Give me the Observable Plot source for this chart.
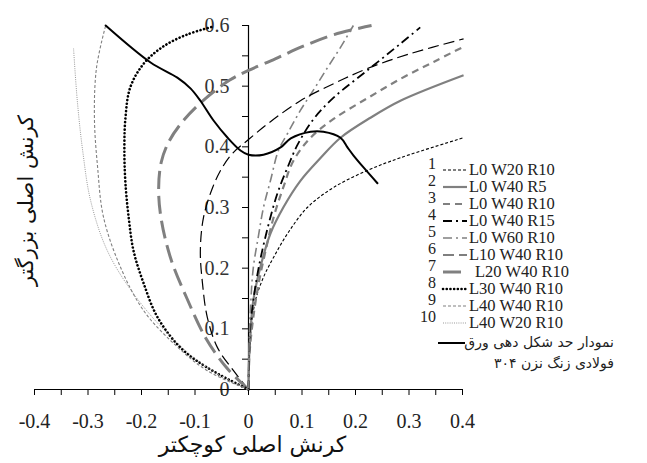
<!DOCTYPE html>
<html><head><meta charset="utf-8">
<script src="https://cdn.jsdelivr.net/npm/d3@7"></script>
<script src="https://cdn.jsdelivr.net/npm/@observablehq/plot@0.6"></script>
<style>
body{margin:0;background:#fff;}
#wrap{position:relative;width:647px;height:463px;}
#legend{position:absolute;left:0;top:0;pointer-events:none;}
</style></head><body><div id="wrap"></div>
<script>
// ---- tick values ----
const xTicks = d3.range(-8, 9).map(i => +(i * 0.05).toFixed(2));
const xLabels = [-0.4, -0.3, -0.2, -0.1, 0, 0.1, 0.2, 0.3, 0.4];
const yTicks = d3.range(0, 13).map(i => +(i * 0.05).toFixed(2));
const yLabels = [0, 0.1, 0.2, 0.3, 0.4, 0.5, 0.6];

// ---- titles ----
const xTitle = "کرنش اصلی کوچکتر";
const yTitle = "کرنش اصلی بزرگتر";
const flcLine1 = "نمودار حد شکل دهی ورق";
const flcLine2 = "فولادی زنگ نزن ۳۰۴";

// ---- series names ----
const names = ["L0 W20 R10","L0 W40 R5","L0 W40 R10","L0 W40 R15","L0 W60 R10",
               "L10 W40 R10","L20 W40 R10","L30 W40 R10","L40 W40 R10","L40 W20 R10"];

// ---- series values [minor strain, major strain] ----
const s1 = [[0,0],[0.001,0.05],[0.004,0.092],[0.013,0.147],[0.028,0.185],[0.047,0.218],[0.073,0.257],[0.110,0.300],[0.159,0.333],[0.222,0.361],[0.284,0.382],[0.402,0.415]];
const s2 = [[0,0],[0.001,0.05],[0.004,0.1],[0.009,0.147],[0.022,0.201],[0.041,0.257],[0.065,0.300],[0.097,0.344],[0.135,0.382],[0.172,0.415],[0.228,0.448],[0.284,0.476],[0.402,0.518]];
const s3 = [[0,0],[0.002,0.06],[0.009,0.119],[0.019,0.175],[0.032,0.229],[0.047,0.284],[0.065,0.333],[0.084,0.377],[0.116,0.415],[0.159,0.446],[0.222,0.480],[0.284,0.512],[0.346,0.540],[0.402,0.565]];
const s4 = [[0,0],[0.001,0.05],[0.003,0.1],[0.009,0.147],[0.019,0.201],[0.036,0.267],[0.054,0.323],[0.073,0.366],[0.092,0.404],[0.121,0.445],[0.159,0.481],[0.222,0.526],[0.284,0.570],[0.321,0.597]];
const s5 = [[0,0],[0.001,0.07],[0.004,0.14],[0.009,0.201],[0.018,0.25],[0.028,0.300],[0.041,0.344],[0.056,0.394],[0.073,0.422],[0.097,0.460],[0.121,0.493],[0.148,0.531],[0.172,0.564],[0.196,0.600]];
const s6 = [[0,0],[-0.028,0.031],[-0.058,0.069],[-0.077,0.119],[-0.086,0.175],[-0.090,0.229],[-0.084,0.284],[-0.067,0.333],[-0.049,0.366],[-0.028,0.391],[0,0.412],[0.036,0.438],[0.097,0.476],[0.159,0.504],[0.222,0.529],[0.300,0.553],[0.402,0.578]];
const s7 = [[0,0],[-0.04,0.035],[-0.08,0.085],[-0.115,0.15],[-0.145,0.215],[-0.163,0.28],[-0.168,0.33],[-0.163,0.375],[-0.148,0.41],[-0.12,0.445],[-0.08,0.48],[-0.035,0.51],[0,0.526],[0.05,0.545],[0.1,0.565],[0.16,0.585],[0.23,0.6]];
const s8 = [[0,0],[-0.077,0.036],[-0.127,0.069],[-0.170,0.119],[-0.196,0.175],[-0.215,0.229],[-0.224,0.284],[-0.230,0.340],[-0.232,0.394],[-0.230,0.448],[-0.221,0.498],[-0.196,0.537],[-0.160,0.565],[-0.115,0.585],[-0.067,0.598]];
const s9 = [[0,0],[-0.077,0.031],[-0.140,0.076],[-0.196,0.130],[-0.239,0.201],[-0.271,0.284],[-0.282,0.366],[-0.288,0.448],[-0.284,0.531],[-0.267,0.600]];
const s10 = [[0,0],[-0.077,0.036],[-0.151,0.092],[-0.215,0.158],[-0.264,0.229],[-0.295,0.311],[-0.310,0.394],[-0.320,0.476],[-0.327,0.562]];
const flc = [[-0.267,0.600],[-0.183,0.539],[-0.133,0.514],[-0.108,0.496],[-0.090,0.476],[-0.065,0.443],[-0.039,0.415],[-0.015,0.394],[0,0.387],[0.028,0.387],[0.060,0.399],[0.079,0.414],[0.116,0.425],[0.140,0.425],[0.172,0.415],[0.185,0.399],[0.196,0.386],[0.215,0.366],[0.241,0.340]];

const series = [s1,s2,s3,s4,s5,s6,s7,s8,s9,s10];

// ---- styles ----
const GRAY = "#808080";
const styles = [
  {stroke:"#000", w:1.1, dash:"3,2"},
  {stroke:GRAY, w:2.2, dash:null},
  {stroke:GRAY, w:2.2, dash:"7,5"},
  {stroke:"#000", w:1.8, dash:"9,4,2,4"},
  {stroke:GRAY, w:1.6, dash:"9,4,2,4"},
  {stroke:"#000", w:1.2, dash:"11,5"},
  {stroke:GRAY, w:3, dash:"18,7"},
  {stroke:"#000", w:2.6, dash:"0.1,3.6", cap:"round"},
  {stroke:GRAY, w:1.1, dash:"3,2"},
  {stroke:"#999", w:1, dash:"1,1.2"}
];

const serif = "'Liberation Serif','Times New Roman',serif";
const fmt = d => d === 0 ? "0" : d.toFixed(1);

const lineMarks = series.map((pts, i) => Plot.line(pts, {
  x: d => d[0], y: d => d[1], curve: "catmull-rom",
  stroke: styles[i].stroke, strokeWidth: styles[i].w,
  strokeDasharray: styles[i].dash, strokeLinecap: styles[i].cap || "butt"
}));

const chart = Plot.plot({
  width: 647, height: 463,
  marginLeft: 34, marginRight: 185, marginTop: 25, marginBottom: 74,
  x: {domain: [-0.4, 0.4], label: null},
  y: {domain: [0, 0.6], label: null},
  style: {fontFamily: serif, background: "#fff", color: "#000"},
  marks: [
    Plot.axisX(xTicks, {tickSize: 6, tickFormat: () => "", label: null}),
    Plot.axisX(xLabels, {tickSize: 0, tickPadding: 24, tickFormat: fmt, fontSize: 20, fill: "#222", label: null}),
    Plot.axisY(yTicks, {x: 0, tickSize: 6, tickFormat: () => "", label: null}),
    Plot.axisY(yLabels, {x: 0, tickSize: 0, tickPadding: 19, tickFormat: fmt, fontSize: 20, fill: "#333", label: null}),
    Plot.ruleY([0], {strokeWidth: 1.2}),
    Plot.ruleX([0], {strokeWidth: 1.2}),
    ...lineMarks,
    Plot.line(flc, {x: d => d[0], y: d => d[1], curve: "catmull-rom", stroke: "#000", strokeWidth: 2}),
    Plot.text([xTitle], {frameAnchor: "bottom", dy: 62, dx: 4, fontSize: 22, fontFamily: "'DejaVu Sans'", fill: "#111"}),
    Plot.text([yTitle], {frameAnchor: "left", textAnchor: "middle", rotate: -90, dx: -8, dy: -7, fontSize: 21, fontFamily: "'DejaVu Sans'", fill: "#111"})
  ]
});

const wrap = document.getElementById("wrap");
wrap.appendChild(chart);

// ---- legend ----
const leg = d3.select(wrap).append("svg").attr("id","legend")
  .attr("width", 647).attr("height", 463)
  .style("font-family", serif);
names.forEach((name, i) => {
  const y = 170 + i * 17;
  const st = styles[i];
  const x2 = i === 6 ? 462 : 467;
  leg.append("text").attr("x", 436).attr("y", y - 5).attr("text-anchor", "end")
    .attr("dominant-baseline", "middle").attr("font-size", 16).attr("fill", "#222").text(String(i + 1));
  leg.append("line").attr("x1", 443).attr("x2", x2).attr("y1", y).attr("y2", y)
    .attr("stroke", st.stroke).attr("stroke-width", st.w)
    .attr("stroke-dasharray", st.dash).attr("stroke-linecap", st.cap || "butt");
  leg.append("text").attr("x", i === 6 ? 475 : 469).attr("y", y + 1)
    .attr("dominant-baseline", "middle").attr("font-size", 16.5).attr("fill", "#222").text(name);
});
leg.append("line").attr("x1", 438).attr("x2", 465).attr("y1", 343).attr("y2", 343)
  .attr("stroke", "#000").attr("stroke-width", 2);
leg.append("text").attr("x", 614).attr("y", 343).attr("text-anchor", "start")
  .attr("dominant-baseline", "middle").attr("font-size", 14).style("font-family", "'DejaVu Sans'")
  .style("direction", "rtl").attr("fill", "#222").text(flcLine1);
leg.append("text").attr("x", 614).attr("y", 364).attr("text-anchor", "start")
  .attr("dominant-baseline", "middle").attr("font-size", 14).style("font-family", "'DejaVu Sans'")
  .style("direction", "rtl").attr("fill", "#222").text(flcLine2);
</script></body></html>
